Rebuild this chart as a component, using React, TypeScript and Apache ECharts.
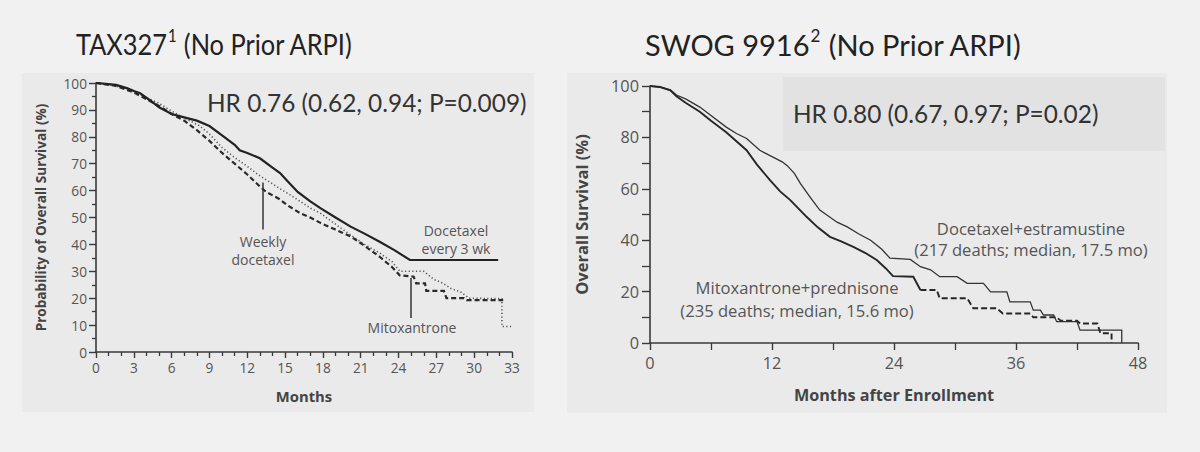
import React, { useEffect, useRef } from "react";
import * as echarts from "echarts";

// ---------- TAX327 (months, % surviving) ----------
const taxXTicks = [0, 3, 6, 9, 12, 15, 18, 21, 24, 27, 30, 33];
const taxQ3w: [number, number][] = [
  [0, 100], [1, 99.6], [1.6, 99.3], [2.5, 98], [3, 97], [3.5, 96.2], [4.3, 93.5], [5, 91], [6, 88.5],
  [7, 87.2], [8, 86], [9, 84], [10, 80.5], [11, 77], [11.4, 75], [12, 74], [13, 72], [14, 68.5],
  [14.6, 66.5], [15.2, 63.5], [16, 59.5], [17, 56], [17.8, 53.5], [19, 50], [20.2, 46.6], [21.3, 44],
  [22.5, 41], [23.7, 37.8], [24.9, 34.2], [31.9, 34.2],
];
const taxWeekly: [number, number][] = [
  [0, 100], [1.5, 99], [3, 97], [4, 94.5], [5, 92.5], [6, 89.5], [7, 87], [8.25, 84], [9, 81], [10, 76],
  [10.9, 72.6], [12, 69], [13, 65.5], [13.5, 64], [14.5, 61], [15.2, 59], [16.2, 56], [17, 53.5],
  [17.8, 51.6], [19, 47.5], [20.2, 43.5], [21.3, 40], [22.5, 36.8], [23.5, 33.5], [24.1, 30], [26, 30],
  [26.8, 27], [27.5, 25.6], [28.2, 23.5], [28.9, 22.4], [29.6, 20], [32.2, 19.8], [32.2, 9.5], [33, 9.5],
];
const taxMitox: [number, number][] = [
  [0, 100], [1.5, 99], [3, 96.5], [4, 94], [5, 91.5], [6, 88.5], [7, 86], [8, 82.5], [9, 78.5], [10, 74],
  [11, 70], [12, 66], [13, 61.5], [13.5, 59.5], [14.5, 57], [15.2, 54.5], [16.2, 51.6], [17, 50],
  [17.8, 48], [19, 45.5], [20.2, 43], [21.3, 39.5], [22.5, 35.4], [23.5, 31.5], [24.1, 28.5], [25.2, 28],
  [25.4, 25.5], [26.1, 25.5], [26.2, 22.7], [27.6, 22.7], [27.8, 20], [29.2, 20], [29.4, 19.3], [32.3, 19.3],
];
// pointer lines (month, top %, bottom %)
const weeklyPointer = [13.25, 63, 45.5];
const mitoxPointer = [25.0, 27.5, 12.6];

// ---------- SWOG 9916 ----------
const swogDocEst: [number, number][] = [
  [0, 100], [1, 99.6], [2, 98.5], [2.6, 96.5], [3.5, 95], [4.9, 91.8], [6, 88.5], [7.5, 84], [8.5, 81.5],
  [9.5, 79.6], [10.8, 75], [12, 72.5], [13, 70.5], [13.5, 69], [14.2, 66], [14.8, 62], [15.8, 56.5],
  [16.7, 51.7], [17.5, 49.5], [18.4, 47], [19.4, 45.2], [20.5, 42.5], [21.7, 40], [22.8, 36.5], [23.6, 33],
  [25.6, 32.5], [26.6, 29.7], [27.6, 28.5], [28.5, 25.8], [30.2, 25.8], [31.2, 23.2], [32.8, 23.2],
  [33.5, 19.9], [35.1, 19.9], [35.4, 16], [37.4, 16], [37.7, 12.8], [38.4, 12.8], [38.7, 10.9],
  [39.7, 10.9], [40, 8.3], [42, 8.3], [42.3, 5], [46.4, 5], [46.4, 0],
];
const swogMitoPred: [number, number][] = [
  [0, 100], [1, 99.6], [2, 98.3], [2.6, 96], [3.5, 93.5], [4.9, 90], [6, 86.5], [7.5, 82], [8.5, 78.5],
  [9.5, 75], [10.5, 69.5], [11.8, 63.4], [12.8, 59], [13.8, 55.6], [15.4, 49.1], [16.5, 45], [17.7, 41.3],
  [18.8, 39.5], [20, 37.4], [21.2, 35], [22.3, 32.3], [23.2, 29], [23.9, 26], [25.9, 25.8], [26.6, 20.6],
  [28.2, 20.6], [28.5, 17.4], [31.2, 17.4], [31.8, 13.5], [34.1, 13.5], [34.7, 11.5], [37.4, 11.5],
  [37.7, 10], [40, 10], [40.4, 8.7], [42, 8.7], [42.3, 7.6], [44, 7.6], [44.3, 3.8], [45.4, 3.8], [45.4, 0],
];
const swogDashFrom = 26.6;

const FONT = '"Open Sans", sans-serif';
const TFONT = "Lato, sans-serif";
const AX = "#3a3a3a";

function axisBase(labelSize: number, tickLen: number, minorLen: number, split: number, margin: number) {
  return {
    type: "value" as const,
    axisLine: { show: true, onZero: false, lineStyle: { color: AX, width: 1.6 } },
    axisTick: { show: true, length: tickLen, lineStyle: { color: AX, width: 1.4 } },
    minorTick: { show: true, splitNumber: split, length: minorLen, lineStyle: { color: AX, width: 1.3 } },
    splitLine: { show: false },
    minorSplitLine: { show: false },
    axisLabel: { color: "#555", fontSize: labelSize, fontFamily: FONT, margin },
  };
}

export default function App() {
  const ref = useRef<HTMLDivElement>(null);
  useEffect(() => {
    if (!ref.current) return;
    const chart = echarts.init(ref.current, undefined, { renderer: "svg" });
    const lineSeries = (data: [number, number][], idx: number, color: string, width: number, type: any, extra: any = {}) => ({
      type: "line",
      xAxisIndex: idx,
      yAxisIndex: idx,
      data,
      showSymbol: false,
      symbol: "none",
      lineStyle: { color, width, type, cap: "butt", join: "miter" },
      z: 3,
      ...extra,
    });
    const pointer = (p: number[]) => ({
      silent: true,
      symbol: "none",
      label: { show: false },
      lineStyle: { color: "#333", width: 1.5, type: "solid" },
      data: [[{ coord: [p[0], p[1]] }, { coord: [p[0], p[2]] }]],
    });
    const solidPart = swogMitoPred.filter((d) => d[0] <= swogDashFrom);
    const dashPart = swogMitoPred.filter((d) => d[0] >= swogDashFrom);

    const txt = (x: number, y: number, text: string, size: number, align: string, color = "#555", font = FONT, extra: any = {}) => ({
      type: "text",
      x,
      y,
      z: 10,
      style: { text, fontSize: size, fontFamily: font, fill: color, align, verticalAlign: "middle", ...extra },
    });
    const title = (x: number, main: string, sup: string, rest: string, scaleX: number) => ({
      type: "text", x, y: 44, z: 10, scaleX, originX: 0,
      style: {
        text: `{m|${main}}{s|${sup}}{m|${rest}}`,
        verticalAlign: "middle",
        rich: {
          m: { fontSize: 29, fontFamily: TFONT, fill: "#222", lineHeight: 34 },
          s: { fontSize: 17, fontFamily: TFONT, fill: "#222", verticalAlign: "top", lineHeight: 34, padding: [0, 1, 0, 1] },
        },
      },
    });

    const option: any = {
      animation: false,
      backgroundColor: "#f1f1f1",
      grid: [
        { left: 96, top: 83, width: 416, height: 269 },
        { left: 650, top: 86, width: 488, height: 257 },
      ],
      xAxis: [
        {
          ...axisBase(13.7, 6, 4, 3, 8),
          gridIndex: 0, min: 0, max: 33, interval: 3,
          name: "Months", nameLocation: "middle", nameGap: 36,
          nameTextStyle: { fontFamily: FONT, fontWeight: "bold", fontSize: 14.8, color: "#444" },
        },
        {
          ...axisBase(16.3, 7, 7, 2, 12),
          gridIndex: 1, min: 0, max: 48, interval: 12,
          name: "Months after Enrollment", nameLocation: "middle", nameGap: 44,
          nameTextStyle: { fontFamily: FONT, fontWeight: "bold", fontSize: 16.2, color: "#444" },
        },
      ],
      yAxis: [
        {
          ...axisBase(13.7, 7, 4, 2, 9),
          gridIndex: 0, min: 0, max: 100, interval: 10,
          name: "Probability of Overall Survival (%)", nameLocation: "middle", nameGap: 49,
          nameTextStyle: { fontFamily: FONT, fontWeight: "bold", fontSize: 13.6, color: "#444" },
        },
        {
          ...axisBase(16.3, 8, 8, 2, 11),
          gridIndex: 1, min: 0, max: 100, interval: 20,
          name: "Overall Survival (%)", nameLocation: "middle", nameGap: 60,
          nameTextStyle: { fontFamily: FONT, fontWeight: "bold", fontSize: 16.5, color: "#444" },
        },
      ],
      series: [
        lineSeries(taxWeekly, 0, "#555", 1.6, [1.2, 2.4]),
        lineSeries(taxMitox, 0, "#2a2a2a", 2.2, [5, 3], { markLine: pointer(mitoxPointer) }),
        lineSeries(taxQ3w, 0, "#222", 2.2, "solid", { markLine: pointer(weeklyPointer) }),
        lineSeries(swogDocEst, 1, "#333", 1.3, "solid"),
        lineSeries(solidPart, 1, "#262626", 1.9, "solid"),
        lineSeries(dashPart, 1, "#262626", 1.9, [6, 3]),
      ],
      graphic: [
        { type: "rect", z: -10, shape: { x: 22, y: 73, width: 512, height: 339 }, style: { fill: "#eaeaea" } },
        { type: "rect", z: -10, shape: { x: 567, y: 73, width: 600, height: 340 }, style: { fill: "#eaeaea" } },
        { type: "rect", z: -9, shape: { x: 783, y: 77, width: 382, height: 74 }, style: { fill: "#e2e2e2" } },
        title(76, "TAX327", "1", " (No Prior ARPI)", 0.875),
        title(645, "SWOG 9916", "2", " (No Prior ARPI)", 1.0),
        txt(207, 102, "HR 0.76 (0.62, 0.94; P=0.009)", 24.4, "left", "#333", TFONT),
        txt(793, 113, "HR 0.80 (0.67, 0.97; P=0.02)", 24.4, "left", "#333", TFONT),
        txt(263, 241, "Weekly", 14, "center"),
        txt(263, 259, "docetaxel", 14, "center"),
        txt(456, 230, "Docetaxel", 14, "center"),
        txt(456, 248, "every 3 wk", 14, "center"),
        txt(412, 327, "Mitoxantrone", 14, "center"),
        txt(1031, 228, "Docetaxel+estramustine", 16.6, "center"),
        txt(1031, 249, "(217 deaths; median, 17.5 mo)", 16.6, "center"),
        txt(797, 287, "Mitoxantrone+prednisone", 16.6, "center"),
        txt(797, 310, "(235 deaths; median, 15.6 mo)", 16.6, "center"),
      ],
    };
    chart.setOption(option);
    return () => chart.dispose();
  }, []);
  return <div ref={ref} style={{ position: "absolute", left: 0, top: 0, width: 1200, height: 452 }} />;
}
